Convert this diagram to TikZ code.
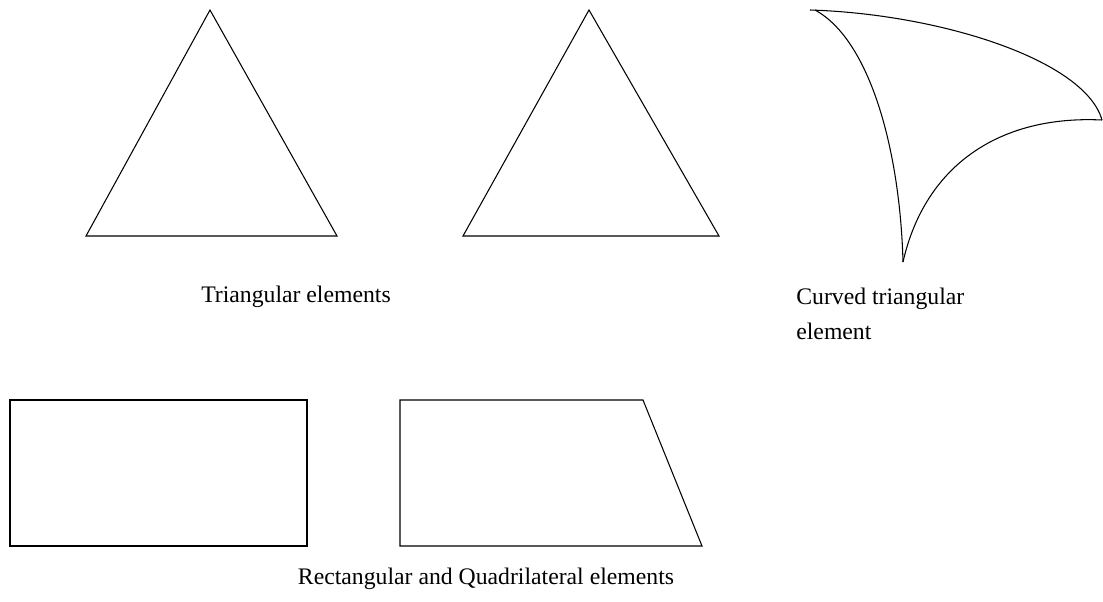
\documentclass[tikz,border=0pt]{standalone}
\usepackage{fontspec}
\setmainfont{Liberation Serif}
\usetikzlibrary{positioning}

\begin{document}
\begin{tikzpicture}[x=0.02cm,y=-0.02cm,line join=miter]
  \tikzstyle{elem}=[draw=black,line width=0.6pt]
  \tikzstyle{caption}=[inner sep=0pt,font=\fontsize{13.5}{16}\selectfont]
  \useasboundingbox (0,0) rectangle (1103,602);
  % triangular elements
  \coordinate (ta) at (210,10);  \coordinate (tb) at (86,236);  \coordinate (tc) at (337,236);
  \coordinate (ua) at (589,10);  \coordinate (ub) at (463,236); \coordinate (uc) at (719,236);
  \draw[elem] (ta) -- (tb) -- (tc) -- cycle;
  \draw[elem] (ua) -- (ub) -- (uc) -- cycle;
  % curved triangular element
  \coordinate (ca) at (810,10); \coordinate (cb) at (1102,120); \coordinate (cc) at (903,262);
  \draw[elem] (ca) .. controls (940,14) and (1085,60) .. (cb);
  \draw[elem] (cb) .. controls (1000,115) and (925,165) .. (cc);
  \draw[elem] (815,10) .. controls (870,40) and (900,150) .. (cc);
  % rectangular and quadrilateral elements
  \coordinate (ra) at (10,400); \coordinate (rb) at (307,546);
  \draw[elem] (ra) rectangle (rb);
  \coordinate (qa) at (400,400); \coordinate (qb) at (643,400);
  \coordinate (qc) at (702,546); \coordinate (qd) at (400,546);
  \draw[elem] (qa) -- (qb) -- (qc) -- (qd) -- cycle;
  % captions
  \node[caption] (tri) at (296,297) {Triangular elements};
  \node[caption,anchor=west,align=left] (curved) at (796,314) {Curved triangular\\[4pt]element};
  \node[caption] (quad) at (486,579) {Rectangular and Quadrilateral elements};
\end{tikzpicture}
\end{document}
